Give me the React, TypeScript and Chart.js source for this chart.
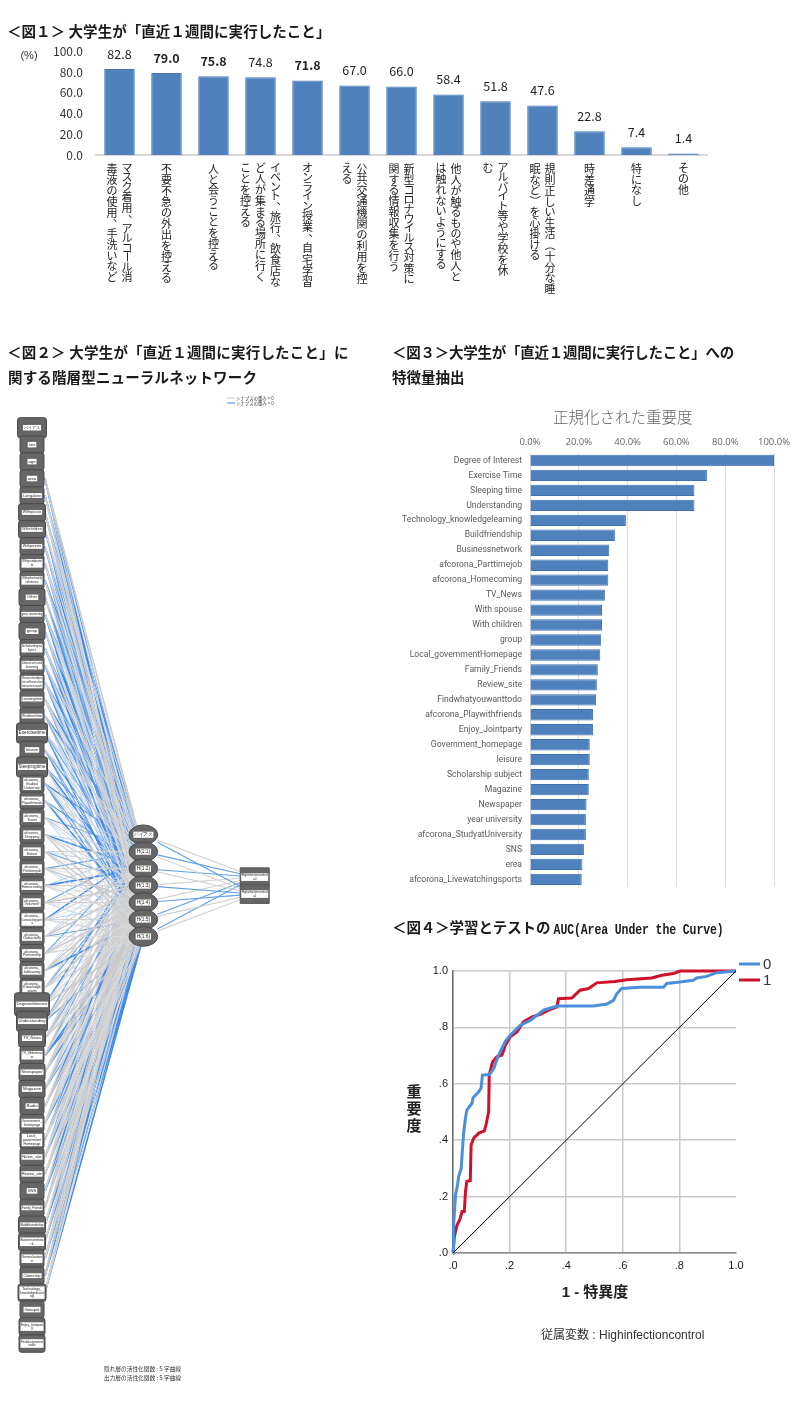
import React, { useEffect, useRef } from "react";
import { Chart, registerables } from "chart.js";
Chart.register(...registerables);

const JP = '"Noto Sans CJK JP", "Noto Sans", sans-serif';
const ARIAL = '"Liberation Sans", Arial, sans-serif';
const LATIN = '"Open Sans", "Noto Sans", sans-serif';

/* ---------- Fig 1 ---------- */
const fig1Labels = [
  "マスク着用、アルコール消\n毒液の使用、手洗いなど",
  "不要不急の外出を控える",
  "人と会うことを控える",
  "イベント、旅行、飲食店な\nど人が集まる場所に行く\nことを控える",
  "オンライン授業、自宅学習",
  "公共交通機関の利用を控\nえる",
  "新型コロナウイルス対策に\n関する情報収集を行う",
  "他人が触るものや他人と\nは触れないようにする",
  "アルバイト等や学校を休\nむ",
  "規則正しい生活（十分な睡\n眠など）を心掛ける",
  "時差通学",
  "特になし",
  "その他",
];
const fig1Values = [82.8, 79.0, 75.8, 74.8, 71.8, 67.0, 66.0, 58.4, 51.8, 47.6, 22.8, 7.4, 1.4];
const fig1BoldLabels = [1, 2, 4];

/* ---------- Fig 2 ---------- */
const inputNames = [
  "バイアス", "sex", "age", "area", "Livingalone", "Withspouse", "Withchildren", "Withparents",
  "Withgrandparen\nts", "Withotherfamily\nrelatives", "Other", "year university", "group",
  "Scholarshipsu\nbject", "Liberal arts and\nlearning", "Researchandpra\nctice/thesis/se\nminarresearch",
  "Learningtime", "Worktime/time", "Exercisetime", "leisure", "Sleepingtime",
  "afcorona_\nStudyat\nUniversity", "afcorona_\nPlaywithfriends", "afcorona_\nTravel", "afcorona_\nShopping",
  "afcorona_\nEatout", "afcorona_\nParttimejob", "afcorona_\nHomecoming", "afcorona_\nVolunteer",
  "afcorona_\nLivewatchingsport\ns", "afcorona_\nClubactivity", "afcorona_\nPartnership", "afcorona_\nJobhunting",
  "afcorona_\nKnowledge\nsports", "Degreeofinterest", "Understanding", "TV_News", "TV_Wideshow\nw",
  "Newspaper", "Magazine", "Radio", "Government_\nhomepage", "Local_\ngovernment\nHomepage",
  "News_site", "Review_site", "SNS", "Family_Friends", "Buildfriendship", "Businessnetwo\nrk",
  "Generalization\nn", "Citizenship", "Technology_\nknowledgelearni\nng", "Getapot", "Enjoy_Jointpart\ny",
  "Findwhatyouwant\ntodo",
];
const hiddenNames = ["バイアス", "H(1:1)", "H(1:2)", "H(1:3)", "H(1:4)", "H(1:5)", "H(1:6)"];
const hiddenRows = [24, 25, 26, 27, 28, 29, 30];
const outputNames = ["Highinfectioncontrol\n=0", "Highinfectioncontrol\n=1"];
const outputRows = [26.5, 27.5];
const firstLinkedRow = 3;
// estimated synaptic weight class per input row (columns: H1..H6), + grey, - blue
const linkWeights = [
  [3, -2, 1, -3, 1, -2], [1, -3, -2, 2, 2, -1], [-2, 1, -1, -3, 3, 1], [2, -1, -2, 1, -2, -2],
  [-1, 2, -3, -1, 1, -2], [1, -3, 1, 2, -1, -2], [-3, 1, -2, -2, 2, -1], [1, -2, -2, -3, -1, 2],
  [-2, 2, -1, 1, -2, -3], [1, -1, -3, 2, 1, -2], [-1, -2, 2, -2, -3, 1], [2, -2, 1, -1, -2, -3],
  [-2, 1, -1, 2, -2, -2], [1, -3, 2, -1, 2, -2], [-3, 2, 1, -2, -1, -1], [2, -1, -2, 1, -1, -3],
  [-1, 2, -2, 1, -2, -2], [1, -2, 1, -3, -1, 2], [-3, 1, -1, 2, -2, -2], [1, -2, 1, -1, -3, 1],
  [-2, 1, 2, -1, 1, -1],
  [-1, -3, 2, 2, 1, 3], [2, -1, -2, 1, 3, 2], [-2, 2, 1, 3, -1, 1],
  [-1, -3, 2, 1, 2, 1], [-2, 1, 3, 2, 1, -1], [-3, 2, 1, -1, 2, 2], [-1, 2, 3, 1, -2, 1],
  [-2, 1, 2, 3, 1, 2], [1, -1, 3, 2, -3, 1], [2, -2, 1, 3, 2, -1], [-3, 2, 1, 2, 1, 3],
  [-2, 1, 3, 2, 1, -2], [2, 3, -2, 2, 1, 3], [3, -2, 2, 1, -3, -3], [-1, 2, 3, 2, -3, 1],
  [2, 3, 1, -2, 1, -2], [1, 2, -3, 3, -2, 1], [3, 1, 2, -1, 2, -3], [2, -3, 1, -2, 1, 2],
  [-2, 2, 3, 1, -2, -2], [1, 3, -1, 2, -3, 2], [2, 1, -3, -2, 1, -3], [3, -2, 2, 1, -2, 1],
  [1, 3, 2, -1, -2, -3], [2, 3, -1, 1, -2, -2], [1, -3, 2, 3, 1, -3], [3, 2, 1, -2, -1, -3],
  [2, 3, -3, 1, 2, -3],
];
// bias + six hidden units, columns: output 0, output 1
const outputWeights = [
  [2, -2], [-2, 2], [-2, 2], [2, -2], [2, -2], [-2, 2], [-2, 2],
];
const nodeWidths: Record<string, number> = {
  "バイアス": 29, Degreeofinterest: 35, Exercisetime: 31, Sleepingtime: 31, Understanding: 31,
  Withspouse: 27, Withchildren: 27, TV_News: 27, "Technology_\nknowledgelearni\nng": 28,
  Newspaper: 26, Magazine: 26, group: 26, Other: 26, Buildfriendship: 27, "Businessnetwo\nrk": 27,
  "Enjoy_Jointpart\ny": 26, "Findwhatyouwant\ntodo": 26,
};
const largeLabels = ["Degreeofinterest", "Exercisetime", "Sleepingtime", "Understanding", "TV_News", "Newspaper", "Magazine", "Radio", "SNS", "Other", "Getapot", "News_site", "Review_site", "group", "leisure", "バイアス", "sex", "age", "area"];

/* ---------- Fig 3 ---------- */
const fig3Labels = [
  "Degree of Interest", "Exercise Time", "Sleeping time", "Understanding", "Technology_knowledgelearning",
  "Buildfriendship", "Businessnetwork", "afcorona_Parttimejob", "afcorona_Homecoming", "TV_News", "With spouse",
  "With children", "group", "Local_governmentHomepage", "Family_Friends", "Review_site", "Findwhatyouwanttodo",
  "afcorona_Playwithfriends", "Enjoy_Jointparty", "Government_homepage", "leisure", "Scholarship subject", "Magazine",
  "Newspaper", "year university", "afcorona_StudyatUniversity", "SNS", "erea", "afcorona_Livewatchingsports",
];
const fig3Values = [
  100, 72.5, 67.4, 67.4, 39.3, 34.8, 32.5, 32.1, 32.1, 30.7, 29.5, 29.5, 29.2, 28.8, 27.8, 27.4, 27.1, 25.8, 25.8,
  24.5, 24.5, 24.1, 24.1, 23.2, 22.9, 22.9, 22.1, 21.5, 21.2,
];

/* ---------- Fig 4 ---------- */
const rocBlueX = [0, .002, .006, .009, .016, .02, .029, .032, .038, .044, .049, .067, .071, .091, .099, .104, .129, .144, .161, .185, .202, .238, .273, .32, .367, .496, .544, .567, .579, .596, .661, .744, .755, .802, .849, .861, .896, .932, 1];
const rocBlueY = [0, .10, .16, .206, .242, .271, .30, .348, .43, .478, .507, .531, .551, .572, .584, .631, .633, .654, .702, .751, .772, .808, .825, .861, .876, .876, .883, .896, .92, .938, .942, .942, .956, .961, .967, .975, .981, .994, 1];
const rocRedX = [0, .005, .014, .024, .032, .04, .044, .049, .061, .064, .073, .091, .111, .118, .126, .128, .14, .155, .173, .185, .202, .226, .249, .279, .308, .338, .367, .373, .42, .449, .479, .508, .573, .614, .702, .738, .779, .802, 1];
const rocRedY = [0, .059, .098, .118, .147, .147, .218, .254, .256, .383, .407, .425, .433, .46, .501, .631, .678, .696, .702, .737, .767, .784, .82, .837, .846, .861, .873, .902, .904, .932, .938, .958, .963, .969, .975, .985, .991, 1, 1];
const rocDiagonal = [0, 1];
const rocTicks = [0, 0.2, 0.4, 0.6, 0.8, 1];

const pair = (xs: number[], ys: number[]) => xs.map((x, i) => ({ x, y: ys[i] }));

/* Draws Japanese text top to bottom, one glyph at a time. */
function drawVertical(ctx: CanvasRenderingContext2D, text: string, cx: number, top: number, size: number) {
  let y = top;
  ctx.textAlign = "center";
  ctx.textBaseline = "middle";
  for (const ch of text) {
    const kata = /[\u30A0-\u30FF]/.test(ch);
    const hira = /[\u3040-\u309F]/.test(ch);
    const punct = ch === "、";
    const step = (kata ? 9.5 : hira ? 10.6 : punct ? 10 : 11.1) * (size / 11);
    const my = y + step / 2;
    if (ch === "ー" || ch === "（" || ch === "）") {
      ctx.save();
      ctx.translate(cx, my);
      ctx.rotate(Math.PI / 2);
      ctx.fillText(ch, 0, 0);
      ctx.restore();
    } else if (punct) {
      ctx.fillText(ch, cx + size * 0.58, my - size * 0.58);
    } else {
      ctx.fillText(ch, cx, my);
    }
    y += step;
  }
}

function useChart(make: (c: HTMLCanvasElement) => Chart) {
  const ref = useRef<HTMLCanvasElement | null>(null);
  useEffect(() => {
    const chart = make(ref.current!);
    return () => chart.destroy();
  }, []);
  return ref;
}

function canvasStyle(left: number, top: number, width: number, height: number): React.CSSProperties {
  return { position: "absolute", left, top, width, height, display: "block", filter: "blur(0.35px)" };
}

/* ---------- chart builders ---------- */
function makeFig1(c: HTMLCanvasElement) {
  return new Chart(c, {
    type: "bar",
    data: {
      labels: fig1Labels,
      datasets: [{ data: fig1Values, backgroundColor: "#4f81bd", borderColor: "#4577b5", borderWidth: 1, categoryPercentage: 1, barPercentage: 0.65 }],
    },
    options: {
      responsive: false,
      animation: false,
      layout: { autoPadding: false, padding: { left: 0, right: 93, top: 12, bottom: 166 } },
      scales: {
        x: {
          grid: { display: false },
          border: { color: "#d9d9d9", width: 2 },
          ticks: { display: false },
          afterFit: (s: any) => { s.height = 0; },
        },
        y: {
          min: 0, max: 100,
          grid: { display: false, drawTicks: false },
          border: { display: false },
          ticks: { stepSize: 20, padding: 13, color: "#333", font: { family: JP, size: 12 }, callback: (v: any) => Number(v).toFixed(1) },
          afterFit: (s: any) => { s.width = 96; },
        },
      },
      plugins: { legend: { display: false }, tooltip: { enabled: false } },
    },
    plugins: [{
      id: "fig1Text",
      afterDraw(chart: Chart) {
        const ctx = chart.ctx;
        const xs = chart.scales.x;
        const ys = chart.scales.y;
        ctx.save();
        ctx.fillStyle = "#222";
        fig1Values.forEach((v, i) => {
          ctx.textAlign = "center";
          ctx.textBaseline = "middle";
          ctx.font = `${fig1BoldLabels.includes(i) ? "bold " : ""}12.5px ${JP}`;
          ctx.fillText(v.toFixed(1), xs.getPixelForValue(i), ys.getPixelForValue(v) - 15);
          const lines = fig1Labels[i].split("\n");
          const x0 = xs.getPixelForValue(i) + ((lines.length - 1) * 15) / 2;
          ctx.font = `11px ${JP}`;
          lines.forEach((ln, k) => drawVertical(ctx, ln, x0 - k * 15, ys.getPixelForValue(0) + 8, 11));
        });
        ctx.font = `11px ${ARIAL}`;
        ctx.textAlign = "center";
        ctx.fillStyle = "#333";
        ctx.fillText("(%)", 29, 24.7);
        ctx.restore();
      },
    }],
  } as any);
}

function makeFig2(c: HTMLCanvasElement) {
  const datasets: any[] = [];
  const grey = ["", "#dcdcdc", "#d2d2d2", "#cbcbcb"];
  const blue = ["", "#a5c8f2", "#629fe9", "#3f88e6"];
  const widths = [0, 0.8, 1.2, 1.6];
  const link = (x0: number, y0: number, x1: number, y1: number, w: number) => {
    const a = Math.abs(w);
    datasets.push({
      data: [{ x: x0, y: y0 }, { x: x1, y: y1 }],
      showLine: true,
      pointRadius: 0,
      borderColor: w > 0 ? grey[a] : blue[a],
      borderWidth: widths[a],
    });
  };
  // input-to-hidden lines leave the right edge of the input box
  const inputEdge = 0.117;
  for (const sign of [1, -1]) {
    linkWeights.forEach((row, r) => row.forEach((w, h) => {
      if (Math.sign(w) === sign) link(inputEdge, firstLinkedRow + r, 1, hiddenRows[h + 1], w);
    }));
  }
  // hidden-to-output lines stop short of both nodes, on the centre-to-centre path
  const fromT = 0.126;
  const toT = 0.868;
  outputWeights.forEach((row, h) => row.forEach((w, o) => {
    const y0 = hiddenRows[h];
    const y1 = outputRows[o];
    link(1 + fromT, y0 + (y1 - y0) * fromT, 1 + toT, y0 + (y1 - y0) * toT, w);
  }));
  const base = datasets.length;
  datasets.push({ data: inputNames.map((_, r) => ({ x: 0, y: r })), pointRadius: 0 });
  datasets.push({ data: hiddenRows.map((y) => ({ x: 1, y })), pointRadius: 0 });
  datasets.push({ data: outputRows.map((y) => ({ x: 2, y })), pointRadius: 0 });

  const label = (ctx: CanvasRenderingContext2D, text: string, x: number, y: number, size: number, bold: boolean, maxW: number) => {
    const lines = text.split("\n");
    ctx.font = `${bold ? "bold " : ""}${size}px ${ARIAL}`;
    let w = 0;
    lines.forEach((l) => { w = Math.max(w, ctx.measureText(l).width); });
    w = Math.min(w + 2, maxW);
    const lh = size + 0.3;
    const h = lines.length * lh + 1;
    ctx.fillStyle = "#fff";
    ctx.fillRect(x - w / 2, y - h / 2, w, h);
    ctx.fillStyle = "#222";
    ctx.textAlign = "center";
    ctx.textBaseline = "middle";
    lines.forEach((l, i) => ctx.fillText(l, x, y - ((lines.length - 1) * lh) / 2 + i * lh, maxW - 1));
  };

  return new Chart(c, {
    type: "scatter",
    data: { datasets },
    options: {
      responsive: false,
      animation: false,
      layout: { padding: 0 },
      scales: {
        x: { display: false, min: -0.2874, max: 3.215 },
        y: { display: false, min: -2.223, max: 56.74, reverse: true },
      },
      plugins: { legend: { display: false }, tooltip: { enabled: false } },
    },
    plugins: [{
      id: "fig2Nodes",
      afterDraw(chart: Chart) {
        const ctx = chart.ctx;
        ctx.save();
        ctx.lineWidth = 1;
        const inputs = chart.getDatasetMeta(base).data;
        inputs.forEach((p: any, i: number) => {
          const name = inputNames[i];
          const big = largeLabels.includes(name);
          const w = nodeWidths[name] ?? 24;
          const h = name === "Degreeofinterest" ? 23 : w >= 29 ? 20 : 17.5;
          ctx.fillStyle = "#666";
          ctx.strokeStyle = "#4a4a4a";
          ctx.beginPath();
          ctx.roundRect(p.x - w / 2, p.y - h / 2, w, h, 2.5);
          ctx.fill();
          ctx.stroke();
          const size = name === "Exercisetime" || name === "Sleepingtime" ? 4.8 : big ? 4.2 : 3.5;
          label(ctx, name, p.x, p.y, size, false, w - 3);
        });
        chart.getDatasetMeta(base + 1).data.forEach((p: any, i: number) => {
          ctx.fillStyle = "#666";
          ctx.strokeStyle = "#4a4a4a";
          ctx.beginPath();
          ctx.ellipse(p.x, p.y, 14.3, 9.8, 0, 0, Math.PI * 2);
          ctx.fill();
          ctx.stroke();
          label(ctx, hiddenNames[i], p.x, p.y, 4.8, false, 20);
        });
        chart.getDatasetMeta(base + 2).data.forEach((p: any, i: number) => {
          ctx.fillStyle = "#666";
          ctx.strokeStyle = "#555";
          ctx.beginPath();
          ctx.rect(p.x - 14.5, p.y - 9.3, 29, 18.6);
          ctx.fill();
          ctx.stroke();
          label(ctx, outputNames[i], p.x, p.y, 3, false, 27);
        });
        // synapse legend
        const lx0 = 227, lx1 = 235;
        ctx.lineWidth = 1;
        ctx.strokeStyle = "#c8c8c8";
        ctx.beginPath(); ctx.moveTo(lx0, 8); ctx.lineTo(lx1, 8); ctx.stroke();
        ctx.strokeStyle = "#3f88e6";
        ctx.beginPath(); ctx.moveTo(lx0, 13); ctx.lineTo(lx1, 13); ctx.stroke();
        ctx.fillStyle = "#333";
        ctx.textAlign = "left";
        ctx.textBaseline = "middle";
        ctx.font = `4.4px ${JP}`;
        ctx.fillText("シナプスの重み > 0", 236, 8);
        ctx.fillText("シナプスの重み < 0", 236, 13);
        ctx.font = `5.7px ${JP}`;
        ctx.fillStyle = "#333";
        ctx.fillText("隠れ層の活性化関数 : S 字曲線", 104, 978.7);
        ctx.fillText("出力層の活性化関数 : S 字曲線", 104, 988);
        ctx.restore();
      },
    }],
  } as any);
}

function makeFig3(c: HTMLCanvasElement) {
  return new Chart(c, {
    type: "bar",
    data: {
      labels: fig3Labels,
      datasets: [{ data: fig3Values, backgroundColor: "#4f81bd", borderColor: "#3f72b4", borderWidth: 1, categoryPercentage: 1, barPercentage: 0.76 }],
    },
    options: {
      indexAxis: "y",
      responsive: false,
      animation: false,
      layout: { padding: { left: 0, right: 26, top: 0, bottom: 13 } },
      scales: {
        x: {
          position: "top",
          min: 0, max: 100,
          grid: { color: "#dcdcdc", lineWidth: 1, drawTicks: false },
          border: { display: false },
          ticks: { stepSize: 20, padding: 5, maxRotation: 0, color: "#666", font: { family: LATIN, size: 9.5 }, callback: (v: any) => `${Number(v).toFixed(1)}%` },
          afterFit: (s: any) => { s.height = 53; },
        },
        y: {
          grid: { display: false, drawTicks: false },
          border: { display: false },
          ticks: { autoSkip: false, padding: 8, color: "#5a5a5a", font: { family: "Roboto, sans-serif", size: 8.6 } },
          afterFit: (s: any) => { s.width = 140; },
        },
      },
      plugins: { legend: { display: false }, tooltip: { enabled: false } },
    },
    plugins: [{
      id: "fig3Title",
      afterDraw(chart: Chart) {
        const ctx = chart.ctx;
        ctx.save();
        ctx.fillStyle = "#666";
        ctx.font = `300 15.5px ${JP}`;
        ctx.textAlign = "center";
        ctx.textBaseline = "middle";
        ctx.fillText("正規化された重要度", 232.7, 17);
        ctx.restore();
      },
    }],
  } as any);
}

function makeFig4(c: HTMLCanvasElement) {
  const tickFmt = (v: any) => (Number(v) === 1 ? "1.0" : `.${Math.round(Number(v) * 10)}`);
  return new Chart(c, {
    type: "scatter",
    data: {
      datasets: [
        { label: "diag", data: pair(rocDiagonal, rocDiagonal), showLine: true, pointRadius: 0, borderColor: "#000", borderWidth: 1 },
        { label: "0", data: pair(rocBlueX, rocBlueY), showLine: true, pointRadius: 0, borderColor: "#4a8fdc", borderWidth: 3, borderJoinStyle: "miter", clip: false },
        { label: "1", data: pair(rocRedX, rocRedY), showLine: true, pointRadius: 0, borderColor: "#d0112b", borderWidth: 3, borderJoinStyle: "miter", clip: false },
      ],
    },
    options: {
      responsive: false,
      animation: false,
      layout: { padding: { left: 0, right: 64, top: 21, bottom: 72 } },
      scales: {
        x: {
          min: 0, max: 1,
          afterBuildTicks: (s: any) => { s.ticks = rocTicks.map((value) => ({ value })); },
          grid: { color: (k: any) => (k.tick && k.tick.value === 1 ? "rgba(0,0,0,0)" : "#c9c9c9"), lineWidth: 1.5, drawTicks: false },
          border: { color: "#8a8a8a", width: 1.5 },
          ticks: { padding: 6, maxRotation: 0, color: "#222", font: { family: ARIAL, size: 11 }, callback: tickFmt },
          afterFit: (s: any) => { s.height = 25; },
        },
        y: {
          min: 0, max: 1,
          afterBuildTicks: (s: any) => { s.ticks = rocTicks.map((value) => ({ value })); },
          grid: { color: "#c9c9c9", lineWidth: 1.5, drawTicks: false },
          border: { color: "#6f6f6f", width: 1.5 },
          ticks: { padding: 5, color: "#222", font: { family: ARIAL, size: 11 }, callback: tickFmt },
          afterFit: (s: any) => { s.width = 63; },
        },
      },
      plugins: { legend: { display: false }, tooltip: { enabled: false } },
    },
    plugins: [{
      id: "fig4Text",
      afterDraw(chart: Chart) {
        const ctx = chart.ctx;
        ctx.save();
        ctx.textBaseline = "middle";
        ctx.textAlign = "left";
        [["0", "#4a8fdc", 14], ["1", "#d0112b", 30]].forEach(([t, col, y]: any) => {
          ctx.strokeStyle = col;
          ctx.lineWidth = 3;
          ctx.beginPath(); ctx.moveTo(349, y); ctx.lineTo(370, y); ctx.stroke();
          ctx.fillStyle = "#333";
          ctx.font = `15px ${ARIAL}`;
          ctx.fillText(t, 373, y + 1);
        });
        ctx.fillStyle = "#222";
        ctx.textAlign = "center";
        ctx.font = `bold 15px ${ARIAL}, ${JP}`;
        ctx.fillText("1 - 特異度", 205, 343);
        ["重", "要", "度"].forEach((ch, i) => ctx.fillText(ch, 24, 143 + i * 17));
        ctx.font = `12px ${ARIAL}, ${JP}`;
        ctx.fillStyle = "#333";
        ctx.fillText("従属変数 : Highinfectioncontrol", 232.7, 386);
        ctx.restore();
      },
    }],
  } as any);
}

function Title({ left, top, children, spacing = 0 }: { left: number; top: number; children: React.ReactNode; spacing?: number }) {
  return (
    <div style={{ position: "absolute", left, top, whiteSpace: "nowrap", fontFamily: JP, fontWeight: 700, fontSize: 14.5, lineHeight: "20px", color: "#1a1a1a", letterSpacing: spacing, filter: "blur(0.25px)" }}>
      {children}
    </div>
  );
}

export default function App() {
  const r1 = useChart(makeFig1);
  const r2 = useChart(makeFig2);
  const r3 = useChart(makeFig3);
  const r4 = useChart(makeFig4);
  return (
    <div style={{ position: "absolute", left: 0, top: 0, width: 800, height: 1401, background: "#fff", overflow: "hidden" }}>
      <Title left={7} top={21} spacing={0.05}>＜図１＞ 大学生が「直近１週間に実行したこと」</Title>
      <Title left={7} top={342} spacing={0.2}>＜図２＞ 大学生が「直近１週間に実行したこと」に</Title>
      <Title left={8} top={367} spacing={0.15}>関する階層型ニューラルネットワーク</Title>
      <Title left={392} top={342} spacing={-0.25}>＜図３＞大学生が「直近１週間に実行したこと」への</Title>
      <Title left={392} top={367}>特徴量抽出</Title>
      <Title left={392} top={917} spacing={-0.1}>＜図４＞学習とテストの <span style={{ fontFamily: '"Liberation Mono", monospace', fontSize: 11.5, display: "inline-block", transform: "scaleY(1.25)" }}>AUC(Area Under the Curve)</span></Title>
      <canvas ref={r1} width={800} height={290} style={canvasStyle(0, 31, 800, 290)} />
      <canvas ref={r2} width={390} height={1000} style={canvasStyle(0, 390, 390, 1000)} />
      <canvas ref={r3} width={410} height={500} style={canvasStyle(390, 400, 410, 500)} />
      <canvas ref={r4} width={410} height={400} style={canvasStyle(390, 950, 410, 400)} />
    </div>
  );
}
